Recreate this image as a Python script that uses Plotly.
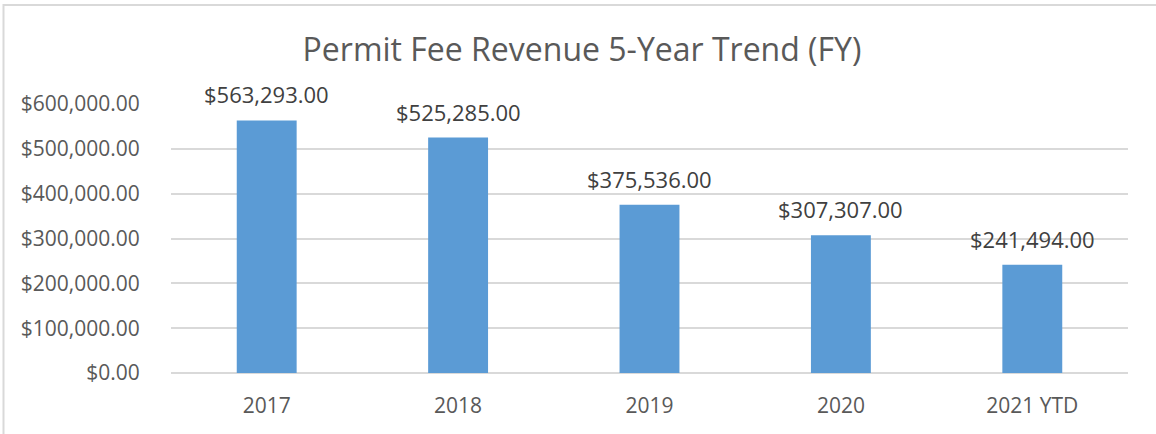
import plotly.graph_objects as go

categories = ["2017", "2018", "2019", "2020", "2021 YTD"]
revenue = [563293, 525285, 375536, 307307, 241494]
tick_values = [0, 100000, 200000, 300000, 400000, 500000, 600000]
tick_labels = ["$0.00", "$100,000.00", "$200,000.00", "$300,000.00",
               "$400,000.00", "$500,000.00", "$600,000.00"]
data_labels = ["${:,.2f}".format(v) for v in revenue]
positions = list(range(len(categories)))

FONT = "Open Sans"
GRAY = "#595959"
GRID = "#D9D9D9"

fig = go.Figure()
fig.add_trace(go.Bar(
    x=positions, y=revenue,
    marker=dict(color="#5B9BD5", line=dict(width=0)),
    width=0.313,
    hoverinfo="skip",
))

for p, v, t in zip(positions, revenue, data_labels):
    fig.add_annotation(x=p, y=v, text=t, showarrow=False, yanchor="middle",
                       yshift=26, font=dict(family=FONT, size=22, color="#404040"))

fig.update_layout(
    width=1156, height=434,
    margin=dict(l=171, r=28, t=104, b=61),
    paper_bgcolor="white", plot_bgcolor="white",
    showlegend=False,
    title=dict(text="Permit Fee Revenue 5-Year Trend (FY)", x=582 / 1156, xanchor="center",
               y=1 - 50 / 434, yanchor="middle",
               font=dict(family=FONT, size=32, color=GRAY)),
    xaxis=dict(range=[-0.5, len(categories) - 0.5], tickvals=positions, ticktext=categories,
               showgrid=False, showline=False, zeroline=False,
               ticks="outside", ticklen=14, tickcolor="rgba(0,0,0,0)",
               tickfont=dict(family=FONT, size=21, color=GRAY)),
    yaxis=dict(range=[0, 600000], tickvals=tick_values, ticktext=tick_labels,
               showgrid=True, gridcolor=GRID, gridwidth=2,
               zeroline=True, zerolinecolor=GRID, zerolinewidth=2,
               showline=False, ticks="outside", ticklen=26, tickcolor="rgba(0,0,0,0)",
               tickfont=dict(family=FONT, size=21, color=GRAY)),
    shapes=[dict(type="rect", xref="paper", yref="paper",
                 x0=(3.5 - 171) / 957, x1=1.2, y0=-0.5, y1=1 + (104 - 5) / 269,
                 line=dict(color=GRID, width=2), fillcolor="rgba(0,0,0,0)", layer="below")],
)

fig.write_html("out.html", config={"displayModeBar": False},
               post_script="document.body.style.margin='0';")
